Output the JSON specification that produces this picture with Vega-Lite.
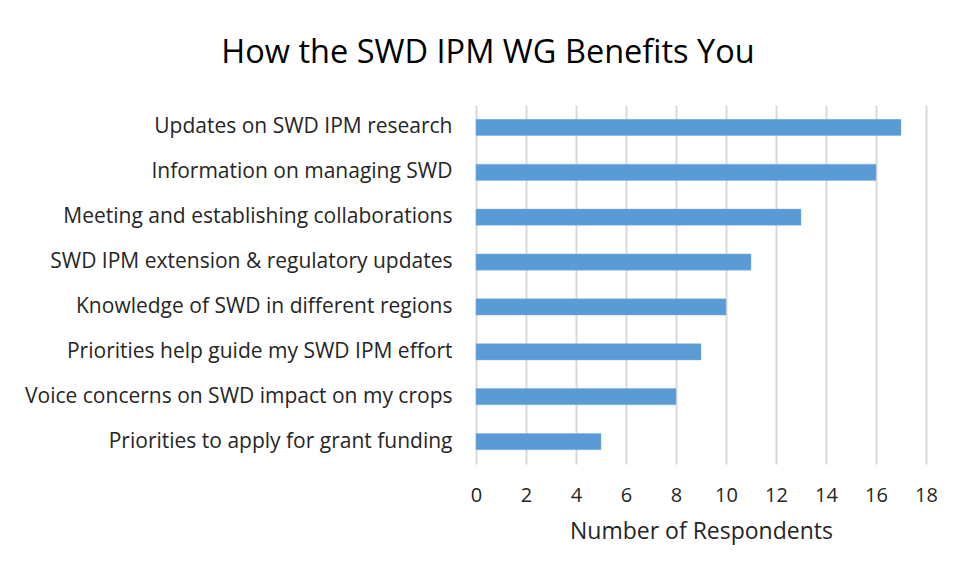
{
  "$schema": "https://vega.github.io/schema/vega-lite/v6.json",
  "width": 450,
  "height": 359,
  "autosize": {"type": "none"},
  "padding": {"left": 476, "top": 105, "right": 31, "bottom": 114},
  "background": "white",
  "title": {
    "text": "How the SWD IPM WG Benefits You",
    "font": "Open Sans",
    "fontSize": 32.5,
    "fontWeight": "normal",
    "color": "#000000",
    "anchor": "middle",
    "frame": "group",
    "dx": -213,
    "offset": 36
  },
  "data": {
    "values": [
      {"benefit": "Updates on SWD IPM research", "count": 17},
      {"benefit": "Information on managing SWD ", "count": 16},
      {"benefit": "Meeting and establishing collaborations", "count": 13},
      {"benefit": "SWD IPM extension & regulatory updates", "count": 11},
      {"benefit": "Knowledge of SWD in different regions", "count": 10},
      {"benefit": "Priorities help guide my SWD IPM effort", "count": 9},
      {"benefit": "Voice concerns on SWD impact on my crops", "count": 8},
      {"benefit": "Priorities to apply for grant funding", "count": 5}
    ]
  },
  "mark": {"type": "bar", "color": "#5b9bd5", "stroke": "#7fb0e0", "strokeWidth": 0.5},
  "encoding": {
    "y": {
      "field": "benefit",
      "type": "nominal",
      "sort": null,
      "scale": {"paddingInner": 0.64, "paddingOuter": 0.32},
      "axis": {
        "title": null,
        "domain": false,
        "ticks": false,
        "labelPadding": 24,
        "labelFont": "Open Sans",
        "labelFontSize": 21,
        "labelColor": "#262626",
        "labelLimit": 600
      }
    },
    "x": {
      "field": "count",
      "type": "quantitative",
      "scale": {"domain": [0, 18], "nice": false},
      "axis": {
        "title": "Number of Respondents",
        "values": [0, 2, 4, 6, 8, 10, 12, 14, 16, 18],
        "domain": false,
        "ticks": false,
        "grid": true,
        "gridColor": "#d9d9d9",
        "gridWidth": 2,
        "labelFlush": false,
        "labelPadding": 21,
        "labelFont": "Open Sans",
        "labelFontSize": 20,
        "labelColor": "#262626",
        "titleFont": "Open Sans",
        "titleFontSize": 23,
        "titleFontWeight": "normal",
        "titleColor": "#262626",
        "titlePadding": 15
      }
    }
  },
  "config": {"view": {"stroke": null}}
}
